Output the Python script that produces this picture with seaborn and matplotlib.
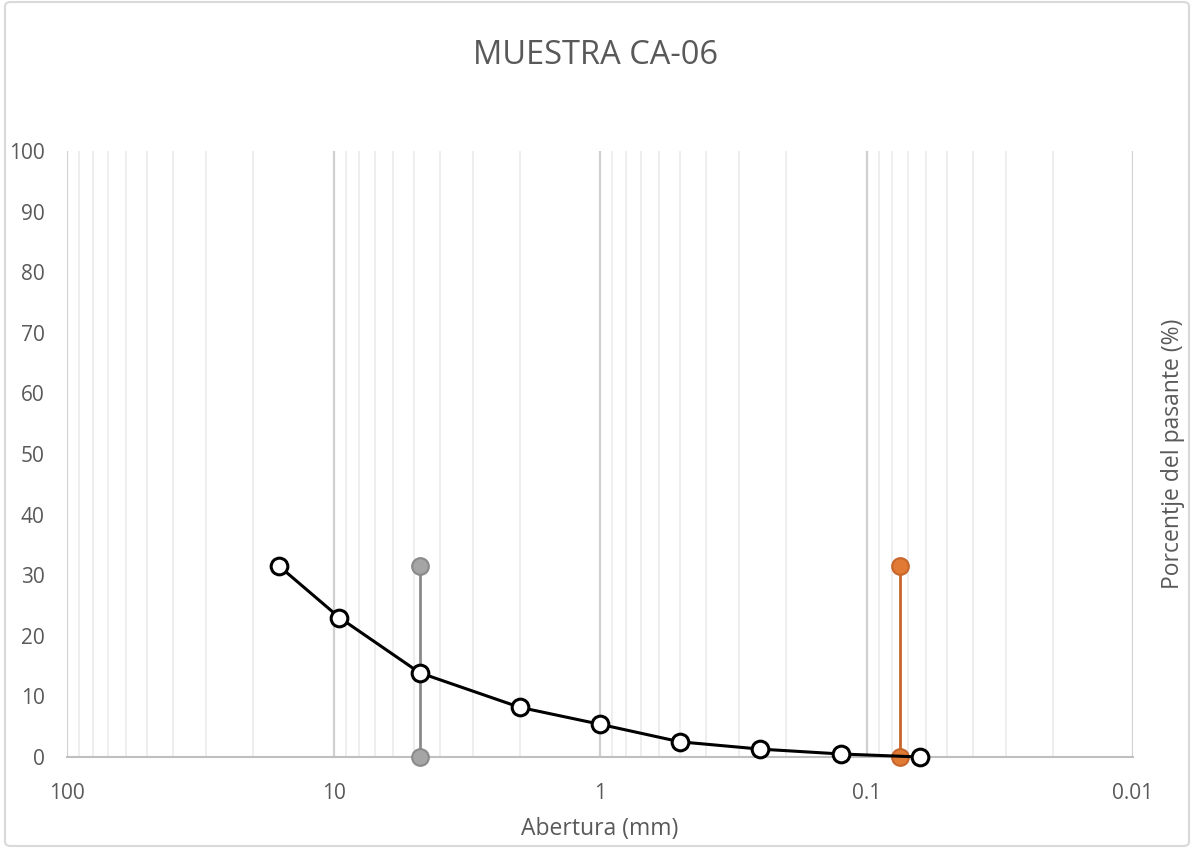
import matplotlib
matplotlib.use("Agg")
import matplotlib.pyplot as plt
from matplotlib.patches import FancyBboxPatch
from matplotlib.ticker import FixedLocator, FixedFormatter, NullFormatter
import numpy as np
import pandas as pd
import seaborn as sns

# Sieve openings (mm) and percent passing
abertura = [16, 9.5, 4.75, 2, 1, 0.5, 0.25, 0.125, 0.063]
pasante = [31.5, 23.0, 13.9, 8.2, 5.4, 2.5, 1.3, 0.5, 0.0]

# Reference limits: gravel/sand (4.75 mm) and fines (0.075 mm)
limite_grava = [4.75, 4.75]
limite_finos = [0.075, 0.075]
limite_y = [0.0, 31.5]

x_ticks = [100, 10, 1, 0.1, 0.01]
x_labels = ["100", "10", "1", "0.1", "0.01"]
y_ticks = [0, 10, 20, 30, 40, 50, 60, 70, 80, 90, 100]

sns.set_style("white")
plt.rcParams["font.family"] = ["Open Sans", "DejaVu Sans"]

text_color = "#595959"
fig = plt.figure(figsize=(11.92, 8.48), dpi=100)
ax = fig.add_axes([67 / 1192, 1 - 757 / 848, (1133 - 67) / 1192, (757 - 151) / 848])

ax.set_xscale("log")
ax.set_xlim(100, 0.01)
ax.set_ylim(0, 100)

# vertical grid: minor and major decades
minor = [m * 10.0 ** e for e in range(-2, 2) for m in range(2, 10)]
for v in minor:
    ax.axvline(v, color="#ebebeb", lw=1.2, zorder=0)
for v in x_ticks:
    ax.axvline(v, color="#d0d0d0", lw=1.6, zorder=0)

df = pd.DataFrame({"abertura": abertura, "pasante": pasante})
sns.lineplot(data=df, x="abertura", y="pasante", ax=ax, color="black", lw=2.2,
             marker="o", markersize=12, markerfacecolor="white",
             markeredgecolor="black", markeredgewidth=2.2,
             estimator=None, sort=False, zorder=4, clip_on=False)

sns.lineplot(x=limite_grava, y=limite_y, ax=ax, color="#8a8a8a", lw=2,
             marker="o", markersize=12, markerfacecolor="#a5a5a5",
             markeredgecolor="#8a8a8a", markeredgewidth=1.5,
             estimator=None, sort=False, zorder=3, clip_on=False)
sns.lineplot(x=limite_finos, y=limite_y, ax=ax, color="#c8652a", lw=2,
             marker="o", markersize=12, markerfacecolor="#e07a34",
             markeredgecolor="#c8652a", markeredgewidth=1.5,
             estimator=None, sort=False, zorder=3, clip_on=False)

ax.xaxis.set_major_locator(FixedLocator(x_ticks))
ax.xaxis.set_major_formatter(FixedFormatter(x_labels))
ax.xaxis.set_minor_formatter(NullFormatter())
ax.set_yticks(y_ticks)
ax.tick_params(axis="both", which="both", length=0, labelsize=15, colors=text_color)
ax.tick_params(axis="x", pad=19)
ax.tick_params(axis="y", pad=16)

for s in ["top", "left", "right"]:
    ax.spines[s].set_visible(False)
ax.spines["bottom"].set_color("#bfbfbf")
ax.spines["bottom"].set_linewidth(1.5)
ax.spines["bottom"].set_zorder(1)

ax.set_xlabel("Abertura (mm)", fontsize=16.5, color=text_color, labelpad=9)
ax.set_ylabel("")
fig.text(1173 / 1192, 1 - 454 / 848, "Porcentje del pasante (%)", rotation=90,
         ha="center", va="center", fontsize=16.5, color=text_color)

fig.text(0.5, 1 - 55 / 848, "MUESTRA CA-06", ha="center", va="center",
         fontsize=23.5, color=text_color)

border = FancyBboxPatch((5 / 1192, 2 / 848), 1184 / 1192, 844 / 848,
                        boxstyle="round,pad=0,rounding_size=0.005",
                        transform=fig.transFigure, fill=False,
                        edgecolor="#d9d9d9", lw=1.5)
fig.patches.append(border)

fig.savefig("out.png", dpi=100, facecolor="white")
